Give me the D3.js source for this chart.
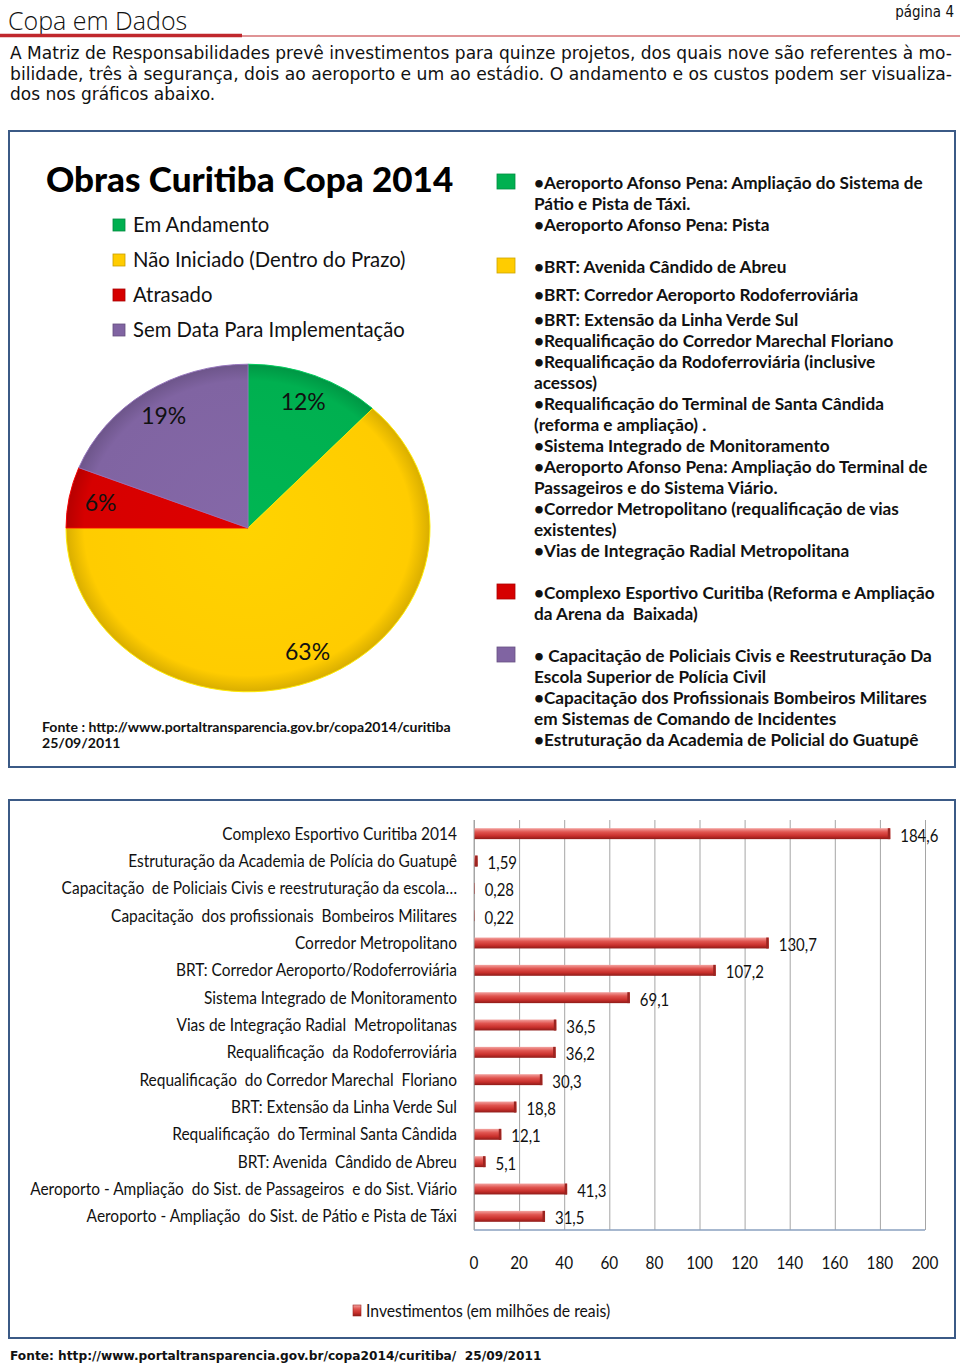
<!DOCTYPE html>
<html>
<head>
<meta charset="utf-8">
<script src="https://cdn.jsdelivr.net/npm/d3@7"></script>
<style>
  body { margin: 0; background: #fff; }
  svg { display: block; }
</style>
</head>
<body>
<div id="page"></div>
<script>
// ---- data ----
var introLines = [
  "A Matriz de Responsabilidades prevê investimentos para quinze projetos, dos quais nove são referentes à mo-",
  "bilidade, três à segurança, dois ao aeroporto e um ao estádio. O andamento e os custos podem ser visualiza-",
  "dos nos gráficos abaixo."
];

var pieLabels = ["Em Andamento", "Não Iniciado (Dentro do Prazo)", "Atrasado", "Sem Data Para Implementação"];
var pieValues = [12, 63, 6, 19];
var pieColors = ["#00b050", "#ffcc00", "#d60000", "#8064a2"];

// project lists shown next to the pie, one list per status
var greenItems = [
  ["•Aeroporto Afonso Pena: Ampliação do Sistema de", "Pátio e Pista de Táxi."],
  ["•Aeroporto Afonso Pena: Pista"]
];
var yellowItems = [
  ["•BRT: Avenida Cândido de Abreu"],
  ["•BRT: Corredor Aeroporto Rodoferroviária"],
  ["•BRT: Extensão da Linha Verde Sul"],
  ["•Requalificação do Corredor Marechal Floriano"],
  ["•Requalificação da Rodoferroviária (inclusive", "acessos)"],
  ["•Requalificação do Terminal de Santa Cândida", "(reforma e ampliação) ."],
  ["•Sistema Integrado de Monitoramento"],
  ["•Aeroporto Afonso Pena: Ampliação do Terminal de", "Passageiros e do Sistema Viário."],
  ["•Corredor Metropolitano (requalificação de vias", "existentes)"],
  ["•Vias de Integração Radial Metropolitana"]
];
var redItems = [
  ["•Complexo Esportivo Curitiba (Reforma e Ampliação", "da Arena da  Baixada)"]
];
var purpleItems = [
  ["• Capacitação de Policiais Civis e Reestruturação Da", "Escola Superior de Polícia Civil"],
  ["•Capacitação dos Profissionais Bombeiros Militares", "em Sistemas de Comando de Incidentes"],
  ["•Estruturação da Academia de Policial do Guatupê"]
];

var barLabels = [
  "Complexo Esportivo Curitiba 2014",
  "Estruturação da Academia de Polícia do Guatupê",
  "Capacitação  de Policiais Civis e reestruturação da escola…",
  "Capacitação  dos profissionais  Bombeiros Militares",
  "Corredor Metropolitano",
  "BRT: Corredor Aeroporto/Rodoferroviária",
  "Sistema Integrado de Monitoramento",
  "Vias de Integração Radial  Metropolitanas",
  "Requalificação  da Rodoferroviária",
  "Requalificação  do Corredor Marechal  Floriano",
  "BRT: Extensão da Linha Verde Sul",
  "Requalificação  do Terminal Santa Cândida",
  "BRT: Avenida  Cândido de Abreu",
  "Aeroporto - Ampliação  do Sist. de Passageiros  e do Sist. Viário",
  "Aeroporto - Ampliação  do Sist. de Pátio e Pista de Táxi"
];
var barValues = [184.6, 1.59, 0.28, 0.22, 130.7, 107.2, 69.1, 36.5, 36.2, 30.3, 18.8, 12.1, 5.1, 41.3, 31.5];
var xTicks = [0, 20, 40, 60, 80, 100, 120, 140, 160, 180, 200];
var seriesName = "Investimentos (em milhões de reais)";

// ---- page ----
var W = 960, H = 1363;
var svg = d3.select("#page").append("svg")
    .attr("width", W)
    .attr("height", H);

var defs = svg.append("defs");

// header
svg.append("text")
    .attr("x", 8).attr("y", 30)
    .attr("font-family", "Open Sans")
    .attr("font-size", 25)
    .attr("font-weight", 300)
    .attr("fill", "#111")
    .text("Copa em Dados");

svg.append("line")
    .attr("x1", 0).attr("x2", 960).attr("y1", 36).attr("y2", 36)
    .attr("stroke", "#c0282d").attr("stroke-width", 1.2);
svg.append("line")
    .attr("x1", 0).attr("x2", 242).attr("y1", 35.5).attr("y2", 35.5)
    .attr("stroke", "#c0282d").attr("stroke-width", 3.5);

svg.append("text")
    .attr("transform", "translate(954,17) scale(0.9,1)")
    .attr("text-anchor", "end")
    .attr("font-family", "DejaVu Sans")
    .attr("font-size", 15)
    .attr("fill", "#111")
    .text("página 4");

// intro paragraph (justified lines)
introLines.forEach(function (t, i) {
    var tx = svg.append("text")
        .attr("x", 10)
        .attr("y", 59 + i * 20.5)
        .attr("font-family", "DejaVu Sans")
        .attr("font-size", 17)
        .attr("fill", "#111")
        .text(t);
    if (i < introLines.length - 1) {
        tx.attr("textLength", 942).attr("lengthAdjust", "spacingAndGlyphs");
    }
});

// ---- panel 1: pie ----
svg.append("rect")
    .attr("x", 9).attr("y", 131).attr("width", 946).attr("height", 636)
    .attr("fill", "#fff")
    .attr("stroke", "#3b5a86").attr("stroke-width", 2);

svg.append("text")
    .attr("x", 46).attr("y", 192)
    .attr("font-family", "Lato")
    .attr("font-weight", 900)
    .attr("font-size", 35)
    .attr("fill", "#000")
    .text("Obras Curitiba Copa 2014");

// legend of the pie
var pieLegend = svg.append("g");
pieLabels.forEach(function (t, i) {
    var y = 225 + i * 35;
    pieLegend.append("rect")
        .attr("x", 113).attr("y", y - 6).attr("width", 12).attr("height", 12)
        .attr("fill", pieColors[i])
        .attr("stroke", d3.color(pieColors[i]).darker(0.7)).attr("stroke-width", 0.8);
    pieLegend.append("text")
        .attr("x", 133).attr("y", y + 7)
        .attr("font-family", "Lato")
        .attr("font-size", 20.3)
        .attr("fill", "#111")
        .text(t);
});

// pie (the original is a slightly squashed picture, so scale y)
var cx = 248, cy = 528, r = 182, ySquash = 0.9;

pieColors.forEach(function (c, i) {
    var g = defs.append("radialGradient")
        .attr("id", "pg" + i)
        .attr("gradientUnits", "userSpaceOnUse")
        .attr("cx", 0).attr("cy", 0).attr("r", r);
    g.append("stop").attr("offset", "0%").attr("stop-color", d3.color(c).brighter(0.1));
    g.append("stop").attr("offset", "90%").attr("stop-color", c);
    g.append("stop").attr("offset", "100%").attr("stop-color", d3.color(c).darker(0.45));
});

var pie = d3.pie().sort(null).value(function (d) { return d; });
var arc = d3.arc().innerRadius(0).outerRadius(r);
var labelArc = d3.arc().innerRadius(150).outerRadius(150);
var arcs = pie(pieValues);

var pieG = svg.append("g")
    .attr("transform", "translate(" + cx + "," + cy + ") scale(1," + ySquash + ")");
pieG.selectAll("path")
    .data(arcs)
    .enter()
    .append("path")
    .attr("d", arc)
    .attr("fill", function (d, i) { return "url(#pg" + i + ")"; })
    .attr("stroke", function (d, i) { return d3.color(pieColors[i]).brighter(0.4); })
    .attr("stroke-width", 1);

svg.selectAll(".pieLabel")
    .data(arcs)
    .enter()
    .append("text")
    .attr("class", "pieLabel")
    .attr("x", function (d) { return cx + labelArc.centroid(d)[0]; })
    .attr("y", function (d) { return cy + labelArc.centroid(d)[1] * ySquash + 8; })
    .attr("text-anchor", "middle")
    .attr("font-family", "Lato")
    .attr("font-size", 23)
    .attr("fill", "#111")
    .text(function (d) { return d.value + "%"; });

svg.append("text")
    .attr("x", 42).attr("y", 732)
    .attr("font-family", "Lato")
    .attr("font-weight", 700)
    .attr("font-size", 14.1)
    .attr("fill", "#111")
    .text("Fonte : http://www.portaltransparencia.gov.br/copa2014/curitiba");
svg.append("text")
    .attr("x", 42).attr("y", 748)
    .attr("font-family", "Lato")
    .attr("font-weight", 700)
    .attr("font-size", 14.1)
    .attr("fill", "#111")
    .text("25/09/2011");

// project lists
var groups = [greenItems, yellowItems, redItems, purpleItems];
var listY = 184;
var listG = svg.append("g");
groups.forEach(function (items, gi) {
    listG.append("rect")
        .attr("x", 497).attr("y", listY - 10).attr("width", 18).attr("height", 15)
        .attr("fill", pieColors[gi])
        .attr("stroke", d3.color(pieColors[gi]).darker(0.6)).attr("stroke-width", 0.8);
    items.forEach(function (lines, ii) {
        lines.forEach(function (t) {
            listG.append("text")
                .attr("x", 534).attr("y", listY + 5)
                .attr("font-family", "Lato")
                .attr("font-weight", 700)
                .attr("font-size", 17.2)
                .attr("fill", "#111")
                .style("white-space", "pre")
                .text(t);
            listY += 21;
        });
        // first yellow items are spaced a bit wider in the original
        if (gi == 1 && ii == 0) listY += 7;
        if (gi == 1 && ii == 1) listY += 4;
    });
    listY += 21;
});

// ---- panel 2: bars ----
svg.append("rect")
    .attr("x", 9).attr("y", 800).attr("width", 946).attr("height", 538)
    .attr("fill", "#fff")
    .attr("stroke", "#3b5a86").attr("stroke-width", 2);

var plotTop = 820, plotBottom = 1230;
var xScale = d3.scaleLinear().domain([0, 200]).range([474, 925]);
var yScale = d3.scaleBand()
    .domain(barLabels)
    .range([plotTop, plotBottom])
    .paddingInner(0.6)
    .paddingOuter(0.3);

// grid lines
svg.append("g")
    .attr("transform", "translate(0," + plotBottom + ")")
    .call(d3.axisBottom(xScale).tickValues(xTicks).tickSize(-(plotBottom - plotTop)).tickFormat(""))
    .call(function (g) {
        g.select(".domain").remove();
        g.selectAll("line").attr("stroke", "#a5a5a5").attr("stroke-width", 1);
    });

// bottom axis line
svg.append("line")
    .attr("x1", xScale(0)).attr("x2", xScale(200))
    .attr("y1", plotBottom).attr("y2", plotBottom)
    .attr("stroke", "#8aa0bf").attr("stroke-width", 1.5);

// bar gradient
var bg = defs.append("linearGradient")
    .attr("id", "barGrad")
    .attr("x1", 0).attr("y1", 0).attr("x2", 0).attr("y2", 1);
bg.append("stop").attr("offset", "0%").attr("stop-color", "#f3a3a0");
bg.append("stop").attr("offset", "35%").attr("stop-color", "#e0544f");
bg.append("stop").attr("offset", "70%").attr("stop-color", "#c9302c");
bg.append("stop").attr("offset", "100%").attr("stop-color", "#8e1b18");

var bars = svg.selectAll(".bar")
    .data(barValues)
    .enter()
    .append("g")
    .attr("class", "bar");

bars.append("rect")
    .attr("x", xScale(0))
    .attr("y", function (d, i) { return yScale(barLabels[i]); })
    .attr("width", function (d) { return xScale(d) - xScale(0); })
    .attr("height", yScale.bandwidth())
    .attr("fill", "url(#barGrad)");

// darker end cap of each bar
bars.append("rect")
    .attr("x", function (d) { return Math.max(xScale(0), xScale(d) - 2.5); })
    .attr("y", function (d, i) { return yScale(barLabels[i]); })
    .attr("width", function (d) { return Math.min(2.5, xScale(d) - xScale(0)); })
    .attr("height", yScale.bandwidth())
    .attr("fill", "#9c2420");

// left axis line
svg.append("line")
    .attr("x1", xScale(0)).attr("x2", xScale(0))
    .attr("y1", plotTop).attr("y2", plotBottom)
    .attr("stroke", "#a5a5a5").attr("stroke-width", 1);

var cond = 0.91;
var chartFont = "Lato";

// value labels
bars.append("text")
    .attr("transform", function (d, i) {
        return "translate(" + (xScale(d) + 10) + "," + (yScale(barLabels[i]) + yScale.bandwidth() / 2 + 8) + ") scale(0.88,1)";
    })
    .attr("font-family", chartFont)
    .attr("font-size", 17)
    .attr("fill", "#111")
    .text(function (d) { return String(d).replace(".", ","); });

// category labels
svg.selectAll(".catLabel")
    .data(barLabels)
    .enter()
    .append("text")
    .attr("class", "catLabel")
    .attr("transform", function (d) {
        return "translate(457," + (yScale(d) + yScale.bandwidth() / 2 + 6) + ") scale(" + cond + ",1)";
    })
    .attr("text-anchor", "end")
    .attr("font-family", chartFont)
    .attr("font-size", 17)
    .attr("fill", "#111")
    .style("white-space", "pre")
    .text(function (d) { return d; });

// tick labels
svg.selectAll(".tickLabel")
    .data(xTicks)
    .enter()
    .append("text")
    .attr("class", "tickLabel")
    .attr("transform", function (d) { return "translate(" + xScale(d) + ",1269) scale(0.9,1)"; })
    .attr("text-anchor", "middle")
    .attr("font-family", chartFont)
    .attr("font-size", 17)
    .attr("fill", "#111")
    .text(function (d) { return d; });

// series legend
svg.append("rect")
    .attr("x", 353).attr("y", 1305).attr("width", 8).attr("height", 11)
    .attr("fill", "url(#barGrad)")
    .attr("stroke", "#9c2420").attr("stroke-width", 0.6);
svg.append("text")
    .attr("transform", "translate(366,1317) scale(" + cond + ",1)")
    .attr("font-family", chartFont)
    .attr("font-size", 17.3)
    .attr("fill", "#111")
    .text(seriesName);

// footer
svg.append("text")
    .attr("x", 10).attr("y", 1360)
    .attr("font-family", "DejaVu Sans")
    .attr("font-weight", 700)
    .attr("font-size", 12.2)
    .attr("fill", "#111")
    .style("white-space", "pre")
    .text("Fonte: http://www.portaltransparencia.gov.br/copa2014/curitiba/  25/09/2011");
</script>
</body>
</html>
